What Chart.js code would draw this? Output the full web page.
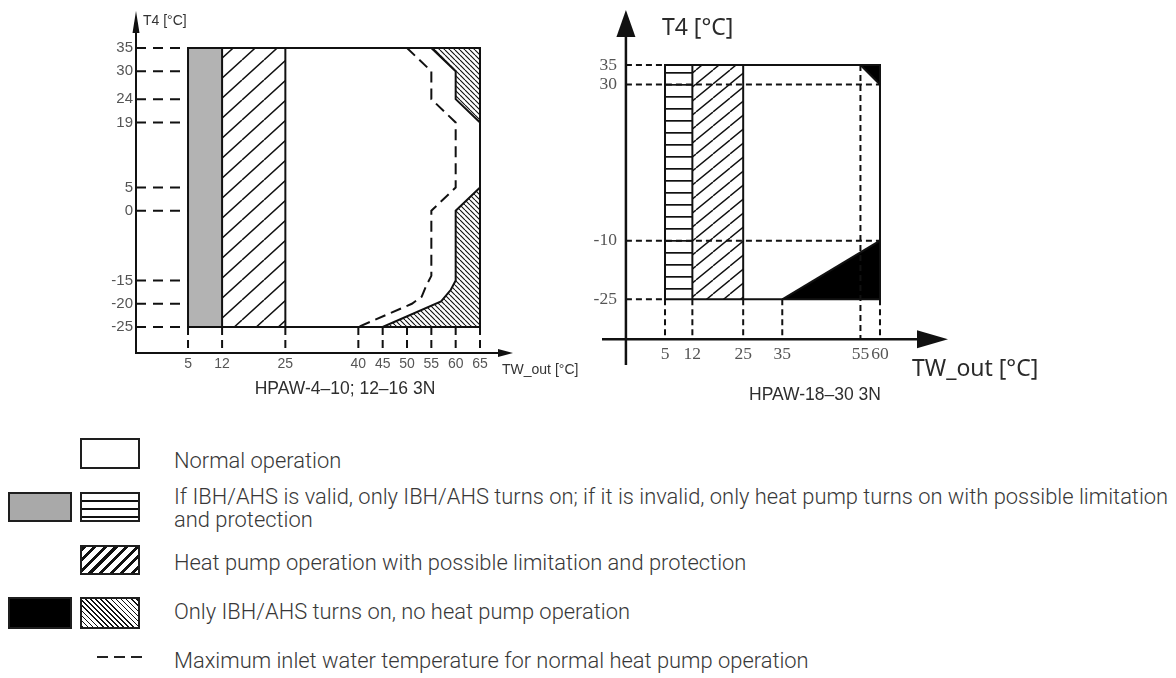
<!DOCTYPE html>
<html>
<head>
<meta charset="utf-8">
<script src="https://cdn.jsdelivr.net/npm/chart.js@4.4.1/dist/chart.umd.min.js"></script>
<style>
  html, body { margin: 0; padding: 0; background: #fff; }
  body { width: 1176px; height: 678px; position: relative; overflow: hidden; font-family: Roboto, "Noto Sans", sans-serif; }
  canvas { position: absolute; top: 0; }
  #left { left: 0; }
  #right { left: 560px; }
  .cap { position: absolute; font-family: "Liberation Sans", Arial, sans-serif; font-size: 17.5px; color: #2e2e2e; white-space: nowrap; transform: translateX(-50%); line-height: 20px; }
  .sw { position: absolute; box-sizing: border-box; border: 2px solid #1e1e1e; background: #fff; }
  .lt { position: absolute; left: 174px; font-size: 21.9px; font-weight: 300; color: #383838; white-space: nowrap; line-height: 23px; }
  .dash { position: absolute; height: 2px; background: repeating-linear-gradient(to right, #222 0 11px, transparent 11px 17px); }
</style>
</head>
<body>
<canvas id="left" width="600" height="400"></canvas>
<canvas id="right" width="580" height="400"></canvas>

<div class="cap" style="left:345px; top:378px;">HPAW-4–10; 12–16 3N</div>
<div class="cap" style="left:815px; top:384px;">HPAW-18–30 3N</div>

<!-- legend -->
<div class="sw" style="left:80px; top:438px; width:60px; height:31px;"></div>
<div class="lt" style="top:449px;">Normal operation</div>

<div class="sw" style="left:8px; top:492px; width:64px; height:30px; background:#a9a9a9;"></div>
<div class="sw" style="left:80px; top:492px; width:60px; height:30px; background:repeating-linear-gradient(to bottom, #fff 0 6px, #111 6px 8px);"></div>
<div class="lt" style="top:485px;">If IBH/AHS is valid, only IBH/AHS turns on; if it is invalid, only heat pump turns on with possible limitation<br>and protection</div>

<div class="sw" style="left:80px; top:545px; width:60px; height:30px; background:repeating-linear-gradient(135deg, #111 0 3px, #fff 3px 7.5px);"></div>
<div class="lt" style="top:551px;">Heat pump operation with possible limitation and protection</div>

<div class="sw" style="left:8px; top:597px; width:64px; height:32px; background:#000;"></div>
<div class="sw" style="left:80px; top:597px; width:60px; height:32px; background:repeating-linear-gradient(45deg, #111 0 1.2px, #fff 1.2px 3.6px);"></div>
<div class="lt" style="top:600px;">Only IBH/AHS turns on, no heat pump operation</div>

<div class="dash" style="left:97px; top:656px; width:45px;"></div>
<div class="lt" style="top:649px;">Maximum inlet water temperature for normal heat pump operation</div>

<script>
// ---------- HPAW-4–10; 12–16 3N ----------
const leftYTicks = [35, 30, 24, 19, 5, 0, -15, -20, -25];
const leftXTicks = [5, 12, 25, 40, 45, 50, 55, 60, 65];
const leftEnvelopeTW = [5, 65];
const leftEnvelopeT4 = [-25, 35];
const leftBackupBand = [5, 12];      // IBH/AHS only (grey)
const leftLimitedBand = [12, 25];    // heat pump with limitation (hatched)
const leftTopBlocked = [[55, 35], [60, 30], [60, 24], [65, 19]];
const leftBottomBlocked = [[45, -25], [57, -19.5], [59, -17], [60, -15], [60, 0], [65, 5]];
const leftMaxInlet = [[50, 35], [55, 30], [55, 24], [60, 19], [60, 5], [55, 0], [55, -14], [54, -16], [53, -18.5], [51, -20], [40, -25]];
const leftRangeTW = [-5.69, 71.78];
const leftRangeT4 = [-30.59, 42.96];

// ---------- HPAW-18–30 3N ----------
const rightYTicks = [35, 30, -10, -25];
const rightYGuideEnds = [5, 60, 60, 5];
const rightXTicks = [5, 12, 25, 35, 55, 60];
const rightXGuideStarts = [-25, -25, -25, -25, 35, -25];
const rightEnvelopeTW = [5, 60];
const rightEnvelopeT4 = [-25, 35];
const rightBackupBand = [5, 12];
const rightLimitedBand = [12, 25];
const rightTopBlocked = [[55, 35], [60, 30]];
const rightBottomBlocked = [[35, -25], [60, -10]];
const rightRangeTW = [-11.12, 77.4];
const rightRangeT4 = [-41.82, 49.08];
const rightOrigin = [-5, -35.24];

const pts = arr => arr.map(([x, y]) => ({x, y}));

function hatch(ctx, w, h, lw, dir) {
  const c = document.createElement('canvas');
  c.width = w; c.height = h;
  const g = c.getContext('2d');
  g.fillStyle = '#fff'; g.fillRect(0, 0, w, h);
  g.strokeStyle = '#111'; g.lineWidth = lw;
  g.beginPath();
  for (let k = -1; k <= 1; k++) {
    if (dir === '/') { g.moveTo(k * w, h); g.lineTo(k * w + w, 0); }
    else { g.moveTo(k * w, 0); g.lineTo(k * w + w, h); }
  }
  g.stroke();
  return ctx.createPattern(c, 'repeat');
}
function stripes(ctx, period, lw) {
  const c = document.createElement('canvas');
  c.width = 4; c.height = period;
  const g = c.getContext('2d');
  g.fillStyle = '#fff'; g.fillRect(0, 0, 4, period);
  g.fillStyle = '#111'; g.fillRect(0, 0, 4, lw);
  return ctx.createPattern(c, 'repeat');
}

function line(data, extra) {
  return Object.assign({
    data, showLine: true, pointRadius: 0, borderColor: '#111', borderWidth: 2,
    fill: false, tension: 0, borderCapStyle: 'butt', borderJoinStyle: 'miter', order: 1
  }, extra);
}
function band(range, top, bottom, bg) {
  return line([{x: range[0], y: top}, {x: range[1], y: top}],
    {borderWidth: 0, backgroundColor: bg, fill: {value: bottom}, order: 3});
}
function frame(tw, t4) {
  return line(pts([[tw[0], t4[0]], [tw[0], t4[1]], [tw[1], t4[1]], [tw[1], t4[0]], [tw[0], t4[0]]]),
    {borderCapStyle: 'square', order: 1});
}
function vline(x, y0, y1, extra) { return line([{x, y: y0}, {x, y: y1}], extra); }
function hline(y, x0, x1, extra) { return line([{x: x0, y}, {x: x1, y}], extra); }

function baseOptions(rx, ry, padding) {
  return {
    responsive: false, animation: false, devicePixelRatio: 1, events: [],
    layout: {padding},
    scales: {
      x: {type: 'linear', min: rx[0], max: rx[1], display: false},
      y: {type: 'linear', min: ry[0], max: ry[1], display: false}
    },
    plugins: {legend: {display: false}, tooltip: {enabled: false}}
  };
}

// ---------- left chart ----------
const lctx = document.getElementById('left').getContext('2d');
const leftGuide = {borderDash: [10, 7], order: 2};
const leftTickGuide = {borderDash: [8, 5], order: 2};
const leftDatasets = [
  frame(leftEnvelopeTW, leftEnvelopeT4),
  vline(leftBackupBand[1], -25, 35),
  vline(leftLimitedBand[1], -25, 35),
  line(pts(leftMaxInlet), {borderDash: [11, 6], order: 2}),
  ...leftYTicks.map(v => hline(v, leftRangeTW[0], leftEnvelopeTW[0], leftGuide)),
  ...leftXTicks.map(v => vline(v, leftEnvelopeT4[0], leftRangeT4[0], leftTickGuide)),
  band(leftBackupBand, 35, -25, '#b3b3b3'),
  band(leftLimitedBand, 35, -25, hatch(lctx, 22, 20, 1.5, '/')),
  line(pts(leftTopBlocked), {backgroundColor: hatch(lctx, 5, 5, 1.1, '\\'), fill: {value: 35}, order: 3}),
  line(pts(leftBottomBlocked), {backgroundColor: hatch(lctx, 5, 5, 1.1, '\\'), fill: {value: -25}, order: 3})
];

const leftAxes = {
  id: 'leftAxes',
  afterDatasetsDraw(chart) {
    const {ctx, chartArea: a, scales: {x, y}} = chart;
    const ox = a.left, oy = a.bottom;
    ctx.save();
    ctx.strokeStyle = '#111'; ctx.fillStyle = '#111'; ctx.lineWidth = 2;
    ctx.beginPath();
    ctx.moveTo(ox, oy + 1); ctx.lineTo(ox, a.top + 20);
    ctx.moveTo(ox - 1, oy); ctx.lineTo(a.right - 13, oy);
    ctx.stroke();
    ctx.beginPath(); ctx.moveTo(ox, a.top); ctx.lineTo(ox - 3.5, a.top + 22); ctx.lineTo(ox + 3.5, a.top + 22); ctx.closePath(); ctx.fill();
    ctx.beginPath(); ctx.moveTo(a.right, oy); ctx.lineTo(a.right - 15, oy - 4); ctx.lineTo(a.right - 15, oy + 4); ctx.closePath(); ctx.fill();

    ctx.font = '15px "Liberation Sans", Arial, sans-serif';
    ctx.fillStyle = '#555';
    ctx.textAlign = 'right'; ctx.textBaseline = 'middle';
    leftYTicks.forEach(v => ctx.fillText(String(v), ox - 3, y.getPixelForValue(v)));
    ctx.font = '14px "Liberation Sans", Arial, sans-serif';
    ctx.textAlign = 'center';
    leftXTicks.forEach(v => ctx.fillText(String(v), x.getPixelForValue(v), oy + 11));

    ctx.fillStyle = '#333';
    ctx.font = '14px "Liberation Sans", Arial, sans-serif';
    ctx.textAlign = 'left'; ctx.textBaseline = 'alphabetic';
    ctx.fillText('T4 [°C]', ox + 7, a.top + 14);
    ctx.fillText('TW_out [°C]', a.right - 11, oy + 21);
    ctx.restore();
  }
};

new Chart(lctx, {
  type: 'scatter',
  data: {datasets: leftDatasets},
  options: baseOptions(leftRangeTW, leftRangeT4, {left: 136, right: 87, top: 11, bottom: 47}),
  plugins: [leftAxes]
});

// ---------- right chart ----------
const rctx = document.getElementById('right').getContext('2d');
const rightGuide = {borderDash: [6, 4], order: 2};
const rightDatasets = [
  frame(rightEnvelopeTW, rightEnvelopeT4),
  vline(rightBackupBand[1], -25, 35),
  vline(rightLimitedBand[1], -25, 35),
  ...rightYTicks.map((v, i) => hline(v, rightOrigin[0], rightYGuideEnds[i], rightGuide)),
  ...rightXTicks.map((v, i) => vline(v, rightXGuideStarts[i], rightOrigin[1], rightGuide)),
  band(rightBackupBand, 35, -25, stripes(rctx, 12, 1.7)),
  band(rightLimitedBand, 35, -25, hatch(rctx, 17, 14, 1.4, '/')),
  line(pts(rightTopBlocked), {backgroundColor: '#000', fill: {value: 35}, order: 3}),
  line(pts(rightBottomBlocked), {backgroundColor: '#000', fill: {value: -25}, order: 3})
];

const rightAxes = {
  id: 'rightAxes',
  afterDatasetsDraw(chart) {
    const {ctx, chartArea: a, scales: {x, y}} = chart;
    const ox = x.getPixelForValue(rightOrigin[0]);
    const oy = y.getPixelForValue(rightOrigin[1]);
    ctx.save();
    ctx.strokeStyle = '#111'; ctx.fillStyle = '#111'; ctx.lineWidth = 2.5;
    ctx.beginPath();
    ctx.moveTo(ox, a.bottom); ctx.lineTo(ox, a.top + 26);
    ctx.moveTo(a.left, oy); ctx.lineTo(a.right - 30, oy);
    ctx.stroke();
    ctx.beginPath(); ctx.moveTo(ox, a.top); ctx.lineTo(ox - 9.5, a.top + 27); ctx.lineTo(ox + 9.5, a.top + 27); ctx.closePath(); ctx.fill();
    ctx.beginPath(); ctx.moveTo(a.right, oy); ctx.lineTo(a.right - 31, oy - 9); ctx.lineTo(a.right - 31, oy + 9); ctx.closePath(); ctx.fill();

    ctx.font = '17.5px "Liberation Serif", "DejaVu Serif", serif';
    ctx.fillStyle = '#555';
    ctx.textAlign = 'right'; ctx.textBaseline = 'middle';
    rightYTicks.forEach(v => ctx.fillText(String(v), ox - 9, y.getPixelForValue(v)));
    ctx.textAlign = 'center';
    rightXTicks.forEach(v => ctx.fillText(String(v), x.getPixelForValue(v), oy + 15));

    ctx.fillStyle = '#2a2a2a';
    ctx.font = '23px "Noto Sans", "Open Sans", sans-serif';
    ctx.textAlign = 'left'; ctx.textBaseline = 'alphabetic';
    ctx.fillText('T4 [°C]', ox + 36, a.top + 25);
    ctx.fillText('TW_out [°C]', a.right - 36, oy + 37);
    ctx.restore();
  }
};

new Chart(rctx, {
  type: 'scatter',
  data: {datasets: rightDatasets},
  options: baseOptions(rightRangeTW, rightRangeT4, {left: 42, right: 192, top: 10, bottom: 35}),
  plugins: [rightAxes]
});
</script>
</body>
</html>
